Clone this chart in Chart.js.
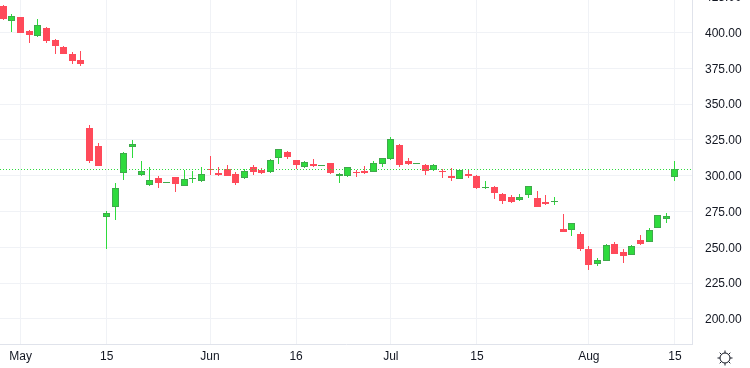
<!DOCTYPE html>
<html>
<head>
<meta charset="utf-8">
<style>
html, body { margin: 0; padding: 0; background: #fff; overflow: hidden; width: 750px; height: 368px; }
canvas { position: absolute; left: 0; top: -24px; }
</style>
<script src="https://cdn.jsdelivr.net/npm/chart.js@4"></script>
</head>
<body>
<canvas id="chart" width="750" height="392"></canvas>
<script>
// OHLC, one entry per trading day
const opens = [418.5,408.0,410.8,401.1,397.6,403.2,394.8,389.9,385.0,380.8,
  333.3,320.7,271.2,278.1,301.9,320.0,300.5,293.5,298.4,294.9,
  299.1,292.8,297.7,296.3,304.7,301.9,304.7,301.2,298.4,306.1,
  304.0,302.6,312.4,316.6,311.0,306.1,308.2,306.8,308.9,299.8,
  299.8,302.6,303.3,302.6,308.2,311.7,321.4,310.3,308.2,307.5,
  304.0,303.3,299.8,297.7,301.2,299.8,291.4,292.1,287.2,285.1,
  283.0,286.5,284.4,281.6,281.6,262.8,262.1,259.3,248.8,238.3,
  240.4,252.3,246.7,244.6,255.1,253.7,263.5,269.8,299.1];
const highs = [419.2,412.9,410.8,401.8,409.4,403.8,395.5,390.6,386.4,387.1,
  335.4,322.8,275.4,294.9,316.6,324.9,310.3,306.1,299.8,295.6,
  299.1,304.0,303.3,306.1,313.8,306.1,307.5,302.6,304.7,307.5,
  305.4,311.7,318.7,317.3,311.0,310.3,311.7,307.5,308.9,301.9,
  306.1,304.0,306.8,310.3,312.4,327.0,322.1,312.4,308.9,308.2,
  308.2,304.7,305.4,304.0,304.0,300.5,296.3,292.8,287.9,286.5,
  287.2,292.8,289.3,286.5,285.1,273.3,267.0,260.7,250.9,242.5,
  252.3,253.7,248.8,251.6,258.6,263.5,272.6,274.0,310.3];
const lows = [408.7,400.4,399.7,392.7,396.9,392.7,385.0,385.0,378.0,376.6,
  308.9,306.8,248.8,269.1,297.0,312.4,299.8,292.8,291.4,294.9,
  288.6,292.8,294.9,295.6,300.5,299.8,299.8,293.5,297.7,300.5,
  301.2,301.9,308.2,311.7,304.5,305.4,306.1,306.8,301.2,294.9,
  299.1,299.1,301.2,302.6,306.1,311.0,306.1,307.5,308.2,300.5,
  303.3,298.4,296.3,297.7,298.4,290.7,290.7,283.7,280.2,280.9,
  282.3,284.4,278.1,279.5,279.5,260.7,257.9,247.4,234.2,236.9,
  240.4,245.3,239.0,244.6,251.6,253.7,263.5,267.0,296.3];
const closes = [409.4,411.5,399.7,398.3,405.2,394.1,390.6,385.0,380.1,378.0,
  310.3,306.8,274.0,291.4,315.9,322.1,303.3,297.0,294.9,295.6,
  294.2,297.7,298.4,301.2,304.0,300.5,299.8,294.9,303.3,302.6,
  301.9,311.0,318.7,313.1,307.5,309.6,306.8,307.5,301.9,301.2,
  306.1,301.9,301.9,308.9,312.4,325.6,307.5,308.2,308.9,303.3,
  307.5,302.6,298.4,304.0,299.8,291.4,292.1,287.9,282.3,281.6,
  285.1,292.8,278.1,280.2,282.3,260.7,267.0,248.8,237.7,241.1,
  251.6,245.3,243.9,250.9,252.3,262.1,272.6,271.9,304.7];

const lastPrice = 304.6;
const xTickPos = [2, 12, 24, 34, 45, 55, 68, 78];
const xTickLabels = ['May', '15', 'Jun', '16', 'Jul', '15', 'Aug', '15'];
const yTicks = [200, 225, 250, 275, 300, 325, 350, 375, 400, 425];

const upColor = '#2edb3d';
const upBorder = '#3fa94c';
const downColor = '#ff4a5a';
const gridColor = '#f0f2f6';
const axisColor = '#e0e3eb';
const textColor = '#131722';
const fontFamily = '"Liberation Sans", sans-serif';

const xMin = -0.39, xMax = 79.98;

const isUp = i => closes[i] >= opens[i];

const bodies = opens.map((o, i) => ({ x: i, y: [o, closes[i]] }));
const wicks = lows.map((l, i) => ({ x: i, y: [l, highs[i]] }));

// snap candles and the price line to whole pixels, the reference is crisp
const snapPixels = {
    id: 'snapPixels',
    beforeDatasetsDraw(chart) {
        chart.getSortedVisibleDatasetMetas().forEach(meta => {
            meta.data.forEach(el => {
                if (meta.type === 'line') {
                    el.y = Math.floor(el.y) + 0.5;
                    return;
                }
                el.x = Math.floor(el.x) + 0.5;
                el.y = Math.round(el.y);
                el.base = Math.round(el.base);
                if (el.base - el.y < 1) el.base = el.y + 1;
            });
        });
    }
};

// little sun icon in the bottom right corner
const sunIcon = {
    id: 'sunIcon',
    afterDraw(chart) {
        const c = chart.ctx;
        const cx = 725, cy = 382;
        c.save();
        c.strokeStyle = '#131722';
        c.lineWidth = 1;
        c.beginPath();
        c.arc(cx, cy, 5, 0, Math.PI * 2);
        c.stroke();
        for (let k = 0; k < 8; k++) {
            const a = k * Math.PI / 4;
            c.beginPath();
            c.moveTo(cx + Math.cos(a) * 5, cy + Math.sin(a) * 5);
            c.lineTo(cx + Math.cos(a) * 7.5, cy + Math.sin(a) * 7.5);
            c.stroke();
        }
        c.restore();
    }
};

new Chart(document.getElementById('chart').getContext('2d'), {
    type: 'bar',
    data: {
        datasets: [
            {
                type: 'line',
                data: [{ x: xMin, y: lastPrice }, { x: xMax, y: lastPrice }],
                borderColor: upColor,
                borderWidth: 1,
                borderDash: [1, 2],
                pointRadius: 0
            },
            {
                data: bodies,
                grouped: false,
                barThickness: 7,
                borderWidth: 1,
                inflateAmount: 0,
                borderSkipped: false,
                backgroundColor: ctx => isUp(ctx.dataIndex) ? upColor : downColor,
                borderColor: ctx => isUp(ctx.dataIndex) ? upBorder : downColor
            },
            {
                data: wicks,
                grouped: false,
                barThickness: 1,
                borderWidth: 0,
                inflateAmount: 0,
                backgroundColor: ctx => isUp(ctx.dataIndex) ? upColor : downColor
            }
        ]
    },
    options: {
        responsive: false,
        animation: false,
        layout: { padding: 0 },
        plugins: { legend: { display: false }, tooltip: { enabled: false } },
        scales: {
            x: {
                type: 'linear',
                min: xMin,
                max: xMax,
                offset: false,
                afterBuildTicks: scale => { scale.ticks = xTickPos.map(v => ({ value: v })); },
                afterFit: scale => { scale.height = 24; scale.paddingLeft = 0; scale.paddingRight = 0; },
                grid: { color: gridColor, offset: false, drawTicks: false },
                border: { color: axisColor },
                ticks: {
                    autoSkip: false,
                    maxRotation: 0,
                    padding: 5,
                    color: textColor,
                    font: { family: fontFamily, size: 12 },
                    callback: (v, idx) => xTickLabels[idx]
                }
            },
            y: {
                position: 'right',
                min: 182.5,
                max: 439.45,
                afterBuildTicks: scale => { scale.ticks = yTicks.map(v => ({ value: v })); },
                afterFit: scale => { scale.width = 58; scale.paddingTop = 0; scale.paddingBottom = 0; },
                grid: { color: gridColor, drawTicks: false },
                border: { color: axisColor },
                ticks: {
                    padding: 13,
                    labelOffset: 1,
                    color: textColor,
                    font: { family: fontFamily, size: 12 },
                    callback: v => v.toFixed(2)
                }
            }
        }
    },
    plugins: [snapPixels, sunIcon]
});
</script>
</body>
</html>
